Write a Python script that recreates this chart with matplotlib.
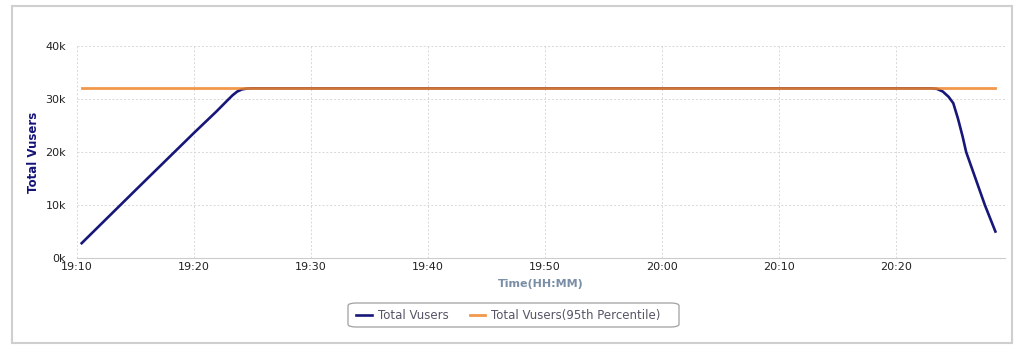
import matplotlib
matplotlib.use("Agg")
import matplotlib.pyplot as plt
from matplotlib.patches import FancyBboxPatch
from matplotlib.ticker import FuncFormatter, MultipleLocator

# minutes after 19:10
vusers_t = [0.4, 5.0, 10.0, 11.9, 12.8, 13.3, 13.7, 14.1, 14.5, 15.0, 73.0, 73.5,
            74.0, 74.5, 74.9, 75.3, 75.7, 76.0, 76.8, 77.6, 78.5]
vusers_k = [2.8, 12.8, 23.6, 27.6, 29.6, 30.7, 31.4, 31.8, 31.95, 32.0, 32.0, 31.9,
            31.4, 30.4, 29.2, 26.3, 22.9, 20.0, 15.0, 10.0, 5.0]
p95_t = [0.4, 78.5]
p95_k = [32.1, 32.1]


def hhmm(m, pos=None):
    total = 19 * 60 + 10 + int(round(m))
    return f"{total // 60:02d}:{total % 60:02d}"


W, H = 1024, 353
fig = plt.figure(figsize=(W / 100, H / 100), dpi=100)
ax = fig.add_axes([0.0752, 0.269, 0.906, 0.601])

# outer frame
fig.patches.append(FancyBboxPatch((0.0117, 0.028), 0.977, 0.955, boxstyle="square,pad=0",
                                  transform=fig.transFigure, fill=False,
                                  edgecolor="#cfcfcf", linewidth=1.5))
# legend box
fig.patches.append(FancyBboxPatch((348 / W, 1 - 327 / H), 331 / W, 24 / H,
                                  boxstyle="round,pad=0,rounding_size=0.008",
                                  transform=fig.transFigure, fill=False,
                                  edgecolor="#a0a0a0", linewidth=0.9))

ax.plot(vusers_t, vusers_k, color="#17177a", linewidth=1.9, label="Total Vusers", zorder=3)
ax.plot(p95_t, p95_k, color="#f0862a", linewidth=2.0, alpha=0.85,
        label="Total Vusers(95th Percentile)", zorder=4)

ax.set_xlim(0, 79.3)
ax.set_ylim(0, 40)
ax.xaxis.set_major_locator(MultipleLocator(10))
ax.xaxis.set_major_formatter(FuncFormatter(hhmm))
ax.yaxis.set_major_locator(MultipleLocator(10))
ax.yaxis.set_major_formatter(FuncFormatter(lambda v, p: f"{int(v)}k"))
ax.grid(True, color="#d8d8d8", linestyle=(0, (2, 2)), linewidth=0.7)
for s in ["top", "right", "left"]:
    ax.spines[s].set_visible(False)
ax.spines["bottom"].set_color("#cccccc")
ax.tick_params(length=0, labelsize=8, colors="#222222", pad=3)
ax.tick_params(axis="y", pad=8)

ax.set_ylabel("Total Vusers", fontsize=8.5, fontweight="bold", color="#141478", labelpad=4)
ax.set_xlabel("Time(HH:MM)", fontsize=8, fontweight="bold", color="#7a8ea6", labelpad=5)

leg = ax.legend(loc="center", bbox_to_anchor=(0.465, -0.27), ncol=2, fontsize=8.5,
                frameon=False, handlelength=1.3, handletextpad=0.5,
                columnspacing=1.8)
for t in leg.get_texts():
    t.set_color("#555566")

fig.savefig("out.png", dpi=100)
